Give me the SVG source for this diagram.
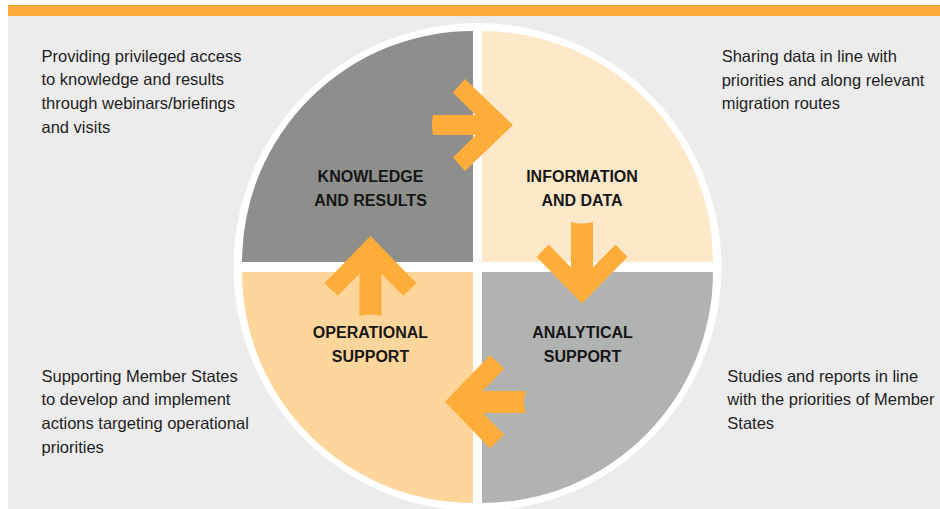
<svg xmlns="http://www.w3.org/2000/svg" width="940" height="509" viewBox="0 0 940 509">
  <style>
    .lbl { font-family: "Liberation Sans", Arial, sans-serif; font-weight: bold; font-size: 16px; fill: #161616; text-anchor: middle; }
    .desc { font-family: "Liberation Sans", Arial, sans-serif; font-size: 16.5px; fill: #1e1e1e; }
    .arrow { fill: #FEAD3B; }
  </style>
  <rect x="0" y="0" width="940" height="509" fill="#ffffff"/>
  <rect x="8" y="15" width="932" height="494" fill="#ECECEC"/>
  <rect x="8" y="5" width="932" height="11" fill="#FDAC3B"/>
  <line x1="8" y1="5.5" x2="940" y2="5.5" stroke="#E79A2E" stroke-width="1"/>
  <circle cx="477.5" cy="267" r="244" fill="#ffffff"/>

  <g id="node-knowledge">
    <path d="M473,262 L242,262 A231,231 0 0 1 473,31 Z" fill="#8E8F8D"/>
    <text class="lbl" x="370.5" y="182.3">KNOWLEDGE</text>
    <text class="lbl" x="370.5" y="206">AND RESULTS</text>
  </g>
  <g id="node-information">
    <path d="M482,262 L482,31 A231,231 0 0 1 713,262 Z" fill="#FEE8CA"/>
    <text class="lbl" x="582" y="182.3">INFORMATION</text>
    <text class="lbl" x="582" y="206">AND DATA</text>
  </g>
  <g id="node-analytical">
    <path d="M482,272 L713,272 A231,231 0 0 1 482,503 Z" fill="#B1B3B2"/>
    <text class="lbl" x="582.5" y="338.3">ANALYTICAL</text>
    <text class="lbl" x="582.5" y="362.3">SUPPORT</text>
  </g>
  <g id="node-operational">
    <path d="M473,272 L473,503 A231,231 0 0 1 242,272 Z" fill="#FED69C"/>
    <text class="lbl" x="370.5" y="338.3">OPERATIONAL</text>
    <text class="lbl" x="370.5" y="362.3">SUPPORT</text>
  </g>

  <g id="connectors">
    <g id="arrow-knowledge-information">
      <path class="arrow" d="M433,115 H488 V135 H433 Q431,125 433,115 Z"/>
      <polygon class="arrow" points="513,125 465,79 453,92.5 485.5,125 453,157.5 465,171"/>
    </g>
    <g id="arrow-information-analytical">
      <path class="arrow" d="M571,222 Q582,225 593,222 V280 H571 Z"/>
      <polygon class="arrow" points="582,303.5 536.5,257 548.5,244.5 582,278.5 615.5,244.5 627.5,257"/>
    </g>
    <g id="arrow-analytical-operational">
      <path class="arrow" d="M526,391 Q522,402 526,413 H472 V391 Z"/>
      <polygon class="arrow" points="445,401.7 490,355 504.3,369 471.6,401.7 504.3,434.4 490,448.4"/>
    </g>
    <g id="arrow-operational-knowledge">
      <path class="arrow" d="M359.5,316 Q370.5,313 381.5,316 V262 H359.5 Z"/>
      <polygon class="arrow" points="370.5,236 416.7,283.3 403.3,295.7 370.5,262.9 337.7,295.7 324.3,283.3"/>
    </g>
  </g>

  <g id="desc-knowledge">
    <text class="desc" x="41.5" y="61.7">Providing privileged access</text>
    <text class="desc" x="41.5" y="85.4">to knowledge and results</text>
    <text class="desc" x="41.5" y="109.1">through webinars/briefings</text>
    <text class="desc" x="41.5" y="132.8">and visits</text>
  </g>
  <g id="desc-information">
    <text class="desc" x="721.7" y="62">Sharing data in line with</text>
    <text class="desc" x="721.7" y="85.7">priorities and along relevant</text>
    <text class="desc" x="721.7" y="109.4">migration routes</text>
  </g>
  <g id="desc-analytical">
    <text class="desc" x="727.3" y="381.7">Studies and reports in line</text>
    <text class="desc" x="727.3" y="405.4">with the priorities of Member</text>
    <text class="desc" x="727.3" y="429.1">States</text>
  </g>
  <g id="desc-operational">
    <text class="desc" x="41.5" y="381.7">Supporting Member States</text>
    <text class="desc" x="41.5" y="405.4">to develop and implement</text>
    <text class="desc" x="41.5" y="429.1">actions targeting operational</text>
    <text class="desc" x="41.5" y="452.8">priorities</text>
  </g>
</svg>
